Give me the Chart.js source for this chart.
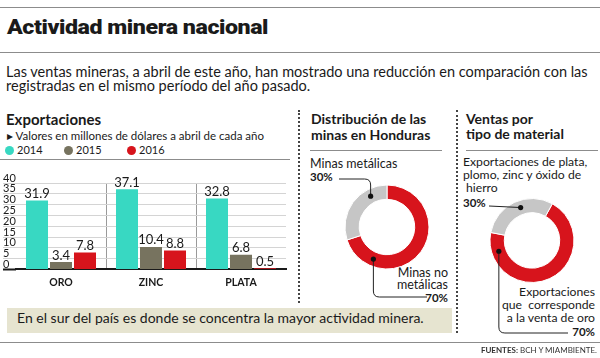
<!DOCTYPE html>
<html lang="es">
<head>
  <meta charset="UTF-8">
  <title>Actividad minera nacional</title>
  <script src="https://cdn.jsdelivr.net/npm/chart.js"></script>
  <style>
    body {
      margin: 0;
      width: 600px;
      height: 358px;
      background: #fff;
      font-family: 'Lato', sans-serif;
      color: #1a1a1a;
      position: relative;
      overflow: hidden;
    }
    .t { position: absolute; white-space: nowrap; line-height: 1.2; }
    .r { text-align: right; }
    .b { font-weight: 700; }
    .hr { position: absolute; height: 0; border-top: 1.5px solid #8c8c8c; }
    .vdot { position: absolute; width: 0; border-left: 2px dotted #444; }
    .dot { display: inline-block; width: 9px; height: 9px; border-radius: 50%; vertical-align: -1px; margin-right: 3px; }
    canvas { position: absolute; }
    #note {
      position: absolute; left: 7px; top: 308px; width: 445px; height: 25px;
      background: #e6e4d0;
    }
    #title { font-family: 'Roboto', sans-serif; font-weight: 900; font-size: 21px; letter-spacing: -0.4px; transform-origin: 0 0; }
  </style>
</head>
<body>
  <div class="hr" style="left:0;top:7px;width:600px"></div>
  <div class="t" id="title" style="left:7px;top:15px">Actividad minera nacional</div>
  <div class="hr" style="left:0;top:52px;width:600px"></div>

  <div class="t" style="left:6px;top:62.7px;font-size:14.5px">Las ventas mineras, a abril de este año, han mostrado una reducción en comparación con las</div>
  <div class="t" style="left:6px;top:76.7px;font-size:14.5px">registradas en el mismo período del año pasado.</div>

  <!-- exportaciones -->
  <div class="t b" style="left:6px;top:110.2px;font-size:15px">Exportaciones</div>
  <div class="t" style="left:7px;top:128.6px;font-size:11.5px">&#9656; Valores en millones de dólares a abril de cada año</div>
  <div class="t" id="legend" style="left:5px;top:143.1px;font-size:11px"></div>
  <div class="hr" style="left:0;top:159px;width:290px"></div>
  <canvas id="barChart" width="285" height="130" style="left:3px;top:170px;width:285px;height:130px"></canvas>

  <div class="vdot" style="left:298px;top:110px;height:193px"></div>
  <div class="vdot" style="left:456px;top:110px;height:223px"></div>

  <!-- distribucion -->
  <div class="t b" style="left:311px;top:111.2px;font-size:14px">Distribución de las</div>
  <div class="t b" style="left:311px;top:126.9px;font-size:14px">minas en Honduras</div>
  <div class="hr" style="left:310px;top:150px;width:132px"></div>
  <div class="t" style="left:310px;top:156px;font-size:12.5px">Minas metálicas</div>
  <div class="t b" style="left:310px;top:170.3px;font-size:11.5px">30%</div>
  <div class="t r" style="right:152px;top:265px;font-size:12.5px">Minas no</div>
  <div class="t r" style="right:152px;top:277px;font-size:12.5px">metálicas</div>
  <div class="t b r" style="right:152px;top:291px;font-size:11.5px">70%</div>
  <canvas id="minasChart" width="156" height="155" style="left:300px;top:150px;width:156px;height:155px"></canvas>

  <!-- ventas por tipo -->
  <div class="t b" style="left:466px;top:111.2px;font-size:14px">Ventas por</div>
  <div class="t b" style="left:466px;top:126.2px;font-size:14px">tipo de material</div>
  <div class="hr" style="left:466px;top:150px;width:132px"></div>
  <div class="t" style="left:463px;top:154.7px;font-size:12.2px">Exportaciones de plata,</div>
  <div class="t" style="left:463px;top:168px;font-size:12.2px">plomo, zinc y óxido de</div>
  <div class="t" style="left:466px;top:180.7px;font-size:12.2px">hierro</div>
  <div class="t b" style="left:463px;top:196px;font-size:11.5px">30%</div>
  <div class="t r" style="right:5px;top:284.7px;font-size:12.2px">Exportaciones</div>
  <div class="t r" style="right:5px;top:298px;font-size:12.2px">que &nbsp;corresponde</div>
  <div class="t r" style="right:5px;top:310.7px;font-size:12.2px">a la venta de oro</div>
  <div class="t b r" style="right:5px;top:325.4px;font-size:11.5px">70%</div>
  <canvas id="ventasChart" width="143" height="195" style="left:457px;top:150px;width:143px;height:195px"></canvas>

  <div id="note"></div>
  <div class="t" style="left:17px;top:310.3px;font-size:14px">En el sur del país es donde se concentra la mayor actividad minera.</div>
  <div class="hr" style="left:0;top:342px;width:600px"></div>
  <div class="t r" style="right:3px;top:346px;font-size:8px;color:#333"><b>FUENTES:</b> BCH Y MIAMBIENTE.</div>

  <script>
    const minerals = ['ORO', 'ZINC', 'PLATA'];
    const years = ['2014', '2015', '2016'];
    const exports2014 = [31.9, 37.1, 32.8];
    const exports2015 = [3.4, 10.4, 6.8];
    const exports2016 = [7.8, 8.8, 0.5];
    const yearColors = ['#38d8c2', '#77735f', '#d7141c'];
    const yTicks = [0, 5, 10, 15, 20, 25, 30, 35, 40];

    const minasLabels = ['Minas no metálicas', 'Minas metálicas'];
    const minasShares = [70, 30];
    const ventasLabels = ['Exportaciones que corresponde a la venta de oro', 'Exportaciones de plata, plomo, zinc y óxido de hierro'];
    const ventasShares = [70, 30];
    const donutColors = ['#d7141c', '#c6c6c6'];

    // squeeze the heavy title to the reference width
    const title = document.getElementById('title');
    title.style.transform = 'scaleX(' + (261 / title.getBoundingClientRect().width) + ')';

    // legend
    document.getElementById('legend').innerHTML = years.map((y, i) =>
      `<span style="position:absolute;left:${[0, 59, 122][i]}px;top:0"><span class="dot" style="background:${yearColors[i]}"></span>${y}</span>`
    ).join('');

    const valueLabels = {
      id: 'valueLabels',
      afterDatasetsDraw(chart) {
        const ctx = chart.ctx;
        ctx.save();
        ctx.font = '13px Lato';
        ctx.fillStyle = '#1a1a1a';
        ctx.textAlign = 'center';
        ctx.textBaseline = 'alphabetic';
        chart.data.datasets.forEach((ds, di) => {
          chart.getDatasetMeta(di).data.forEach((bar, i) => {
            ctx.fillText(ds.data[i].toFixed(1), bar.x, bar.y - 2.5);
          });
        });
        ctx.restore();
      }
    };

    new Chart(document.getElementById('barChart'), {
      type: 'bar',
      data: {
        labels: minerals,
        datasets: [exports2014, exports2015, exports2016].map((d, i) => ({
          label: years[i],
          data: d,
          backgroundColor: yearColors[i],
          categoryPercentage: 0.8,
          barPercentage: 0.917
        }))
      },
      options: {
        responsive: false,
        animation: false,
        layout: { padding: { top: 13, right: 2, bottom: 4, left: 0 } },
        plugins: { legend: { display: false }, tooltip: { enabled: false } },
        scales: {
          x: {
            grid: {
              offset: true,
              drawTicks: false,
              color: ctx => (ctx.index === 1 || ctx.index === 2) ? '#9a9a9a' : 'rgba(0,0,0,0)',
              lineWidth: 1
            },
            border: { color: '#1a1a1a', width: 2 },
            ticks: { font: { family: 'Lato', size: 10.5, weight: 'bold' }, color: '#1a1a1a', padding: 7 }
          },
          y: {
            min: 0,
            max: 40,
            afterBuildTicks: scale => { scale.ticks = yTicks.map(v => ({ value: v })); },
            afterFit: scale => { scale.width = 13; },
            grid: {
              color: '#d4d4d4',
              tickLength: 13,
              tickColor: ctx => ctx.tick && ctx.tick.value === 0 ? '#1a1a1a' : '#d4d4d4',
              tickWidth: ctx => ctx.tick && ctx.tick.value === 0 ? 2 : 1
            },
            border: { display: false },
            ticks: {
              autoSkip: false,
              crossAlign: 'far',
              labelOffset: -5,
              font: { family: 'Lato', size: 11 },
              color: '#1a1a1a'
            }
          }
        }
      },
      plugins: [valueLabels]
    });

    // leader lines for donuts: dot on the ring at a given angle, then a path to the label
    function leaderPlugin(leaders) {
      return {
        id: 'leaders',
        afterDraw(chart) {
          const arc = chart.getDatasetMeta(0).data[0];
          const mid = (arc.innerRadius + arc.outerRadius) / 2;
          const ctx = chart.ctx;
          ctx.save();
          ctx.strokeStyle = '#222';
          ctx.fillStyle = '#111';
          ctx.lineWidth = 1;
          leaders.forEach(l => {
            const a = l.angle * Math.PI / 180;
            const dx = arc.x + mid * Math.sin(a);
            const dy = arc.y - mid * Math.cos(a);
            ctx.beginPath();
            ctx.moveTo(dx, dy);
            l.path(ctx, dx, dy);
            ctx.stroke();
            ctx.beginPath();
            ctx.arc(dx, dy, 2.6, 0, Math.PI * 2);
            ctx.fill();
          });
          ctx.restore();
        }
      };
    }

    function donut(id, labels, data, rotation, pad, leaders) {
      new Chart(document.getElementById(id), {
        type: 'doughnut',
        data: {
          labels: labels,
          datasets: [{ data: data, backgroundColor: donutColors, borderColor: '#fff', borderWidth: 1 }]
        },
        options: {
          responsive: false,
          animation: false,
          rotation: rotation,
          radius: 42,
          cutout: '66%',
          layout: { padding: pad },
          plugins: { legend: { display: false }, tooltip: { enabled: false } }
        },
        plugins: [leaderPlugin(leaders)]
      });
    }

    donut('minasChart', minasLabels, minasShares, 0, { left: 40, right: 22, top: 30, bottom: 31 }, [
      { angle: 332, path: (c, x, y) => { c.lineTo(x, 35); c.quadraticCurveTo(x, 29, x - 6, 29); c.lineTo(39, 29); } },
      { angle: 203, path: (c, x, y) => { c.lineTo(x, 141); c.quadraticCurveTo(x, 147, x + 6, 147); c.lineTo(127, 147); } }
    ]);

    donut('ventasChart', ventasLabels, ventasShares, 29, { left: 30, right: 23, top: 40, bottom: 54 }, [
      { angle: 341, path: (c, x, y) => { c.lineTo(32, 56); } },
      { angle: 252, path: (c, x, y) => { c.lineTo(x, 177); c.quadraticCurveTo(x, 183, x + 6, 183); c.lineTo(111, 183); } }
    ]);
  </script>
</body>
</html>
